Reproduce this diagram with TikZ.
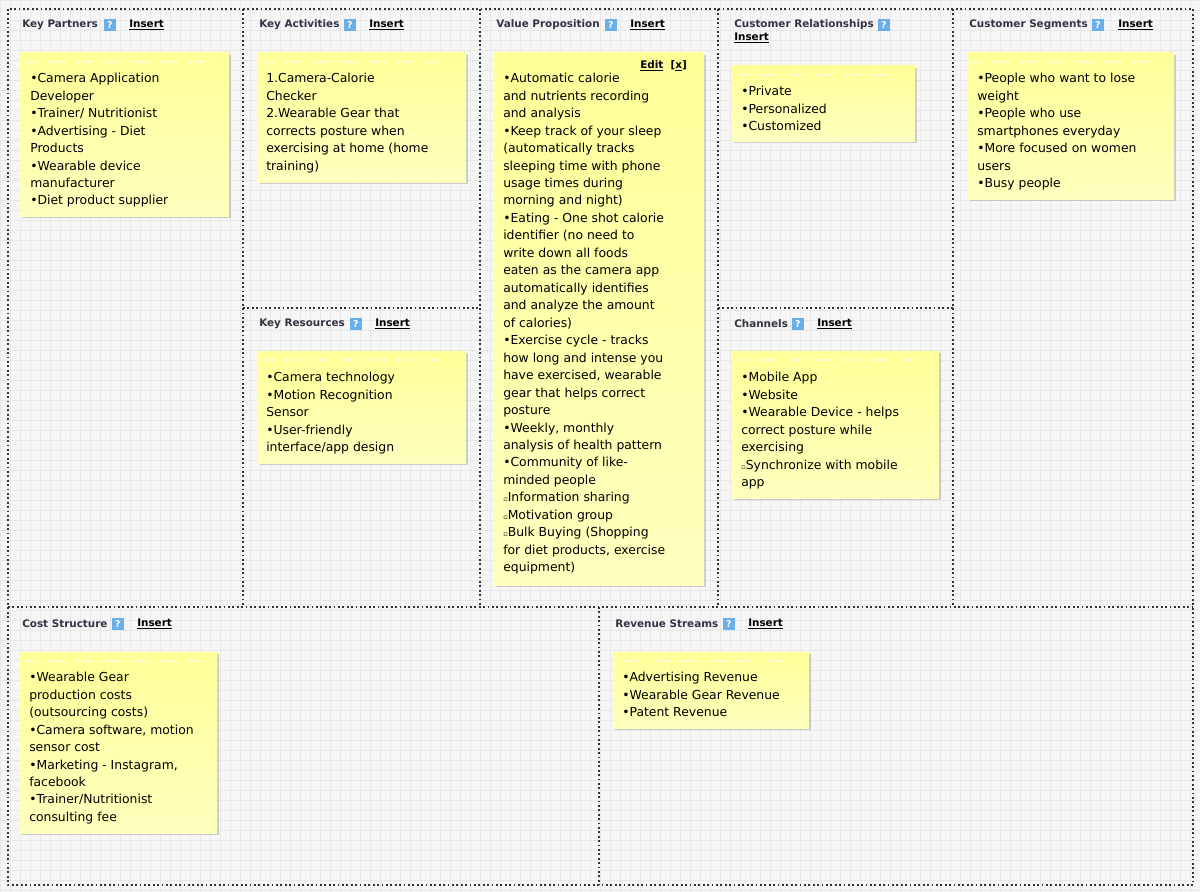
\documentclass[tikz,border=0pt]{standalone}
\usepackage{fontspec}
\setmainfont{DejaVu Sans}
\usetikzlibrary{shadows}
\definecolor{bg}{HTML}{F6F6F6}
\definecolor{gridc}{HTML}{E8E8E8}
\definecolor{notey}{HTML}{FFFF99}
\definecolor{notel}{HTML}{FFFFC8}
\definecolor{hdr}{HTML}{333344}
\definecolor{qbox}{HTML}{6AAEEA}
\tikzset{
  sep/.style={line width=1.3pt, dotted, black!80},
  note/.style={draw=none, top color=notey, bottom color=notel!80!notey, drop shadow={shadow xshift=1.5pt, shadow yshift=-1.5pt, opacity=0.35}},
  ntext/.style={anchor=north west, align=left, font=\fontsize{9.3}{13.1}\selectfont, inner sep=0pt},
  htext/.style={anchor=west, font=\fontsize{7.8}{9}\selectfont\bfseries, text=hdr, inner sep=0pt},
  ins/.style={anchor=west, font=\fontsize{7.8}{9}\selectfont\bfseries, inner sep=0pt},
  qm/.style={fill=qbox, text=white, font=\fontsize{7}{7}\selectfont\bfseries, inner sep=0pt, minimum width=8.5pt, minimum height=8.5pt, anchor=west}
}
\newcommand{\ul}[1]{\underline{#1}}
\newcommand{\sq}{{\fontsize{5}{5}\selectfont ▫}}
\begin{document}
\begin{tikzpicture}[x=0.75pt,y=-0.75pt]
\useasboundingbox (0,0) rectangle (1200,892);
\fill[bg] (0,0) rectangle (1200,892);
\foreach \i in {0,10,...,1200} \draw[gridc, line width=0.4pt] (\i,0) -- (\i,892);
\foreach \j in {0,10,...,890} \draw[gridc, line width=0.4pt] (0,\j) -- (1200,\j);
% frame
\draw[sep] (8,9) rectangle (1193,885);
\draw[sep] (243,9) -- (243,607);
\draw[sep] (480,9) -- (480,607);
\draw[sep] (718,9) -- (718,607);
\draw[sep] (953,9) -- (953,607);
\draw[sep] (243,308) -- (480,308);
\draw[sep] (718,308) -- (953,308);
\draw[sep] (8,607) -- (1193,607);
\draw[sep] (599,607) -- (599,885);
% headers
\node[htext] (h1) at (22,25) {Key Partners};
\node[qm] (q1) at (104,25) {?};
\node[ins] (i1) at (129,25) {\ul{Insert}};
\node[htext] (h2) at (259,25) {Key Activities};
\node[qm] (q2) at (344,25) {?};
\node[ins] (i2) at (369,25) {\ul{Insert}};
\node[htext] (h3) at (496,25) {Value Proposition};
\node[qm] (q3) at (605,25) {?};
\node[ins] (i3) at (630,25) {\ul{Insert}};
\node[htext] (h4) at (734,25) {Customer Relationships};
\node[qm] (q4) at (878,25) {?};
\node[ins] (i4) at (734,38) {\ul{Insert}};
\node[htext] (h5) at (969,25) {Customer Segments};
\node[qm] (q5) at (1092,25) {?};
\node[ins] (i5) at (1118,25) {\ul{Insert}};
\node[htext] (h6) at (259,324) {Key Resources};
\node[qm] (q6) at (350,324) {?};
\node[ins] (i6) at (375,324) {\ul{Insert}};
\node[htext] (h7) at (734,324) {Channels};
\node[qm] (q7) at (792,324) {?};
\node[ins] (i7) at (817,324) {\ul{Insert}};
\node[htext] (h8) at (22,624) {Cost Structure};
\node[qm] (q8) at (112,624) {?};
\node[ins] (i8) at (137,624) {\ul{Insert}};
\node[htext] (h9) at (615,624) {Revenue Streams};
\node[qm] (q9) at (723,624) {?};
\node[ins] (i9) at (748,624) {\ul{Insert}};
% notes
\fill[note] (20,53) rectangle (229,216);
\fill[note] (258,53) rectangle (466,182);
\fill[note] (494,53) rectangle (704,585);
\fill[note] (732,66) rectangle (915,141);
\fill[note] (968,53) rectangle (1174,199);
\fill[note] (258,351) rectangle (466,463);
\fill[note] (732,351) rectangle (939,498);
\fill[note] (20,652) rectangle (217,833);
\fill[note] (613,652) rectangle (809,728);
\foreach \a/\b/\y in {26/210/62, 264/440/62, 970/1150/62, 264/440/360, 738/915/360, 26/200/661, 619/790/661, 738/900/75}
  \draw[white, line width=0.8pt, dotted] (\a,\y) -- (\b,\y);
\node[ins] (ed) at (640,66) {\ul{Edit}\ \ [\ul{x}]};
% texts
\node[ntext] (t1) at (30,73) {•Camera Application\\Developer\\•Trainer/ Nutritionist\\•Advertising - Diet\\Products\\•Wearable device\\manufacturer\\•Diet product supplier};
\node[ntext] (t2) at (266,73) {1.Camera-Calorie\\Checker\\2.Wearable Gear that\\corrects posture when\\exercising at home (home\\training)};
\node[ntext] (t3) at (503,73) {•Automatic calorie\\and nutrients recording\\and analysis\\•Keep track of your sleep\\(automatically tracks\\sleeping time with phone\\usage times during\\morning and night)\\•Eating - One shot calorie\\identifier (no need to\\write down all foods\\eaten as the camera app\\automatically identifies\\and analyze the amount\\of calories)\\•Exercise cycle - tracks\\how long and intense you\\have exercised, wearable\\gear that helps correct\\posture\\•Weekly, monthly\\analysis of health pattern\\•Community of like-\\minded people\\\sq Information sharing\\\sq Motivation group\\\sq Bulk Buying (Shopping\\for diet products, exercise\\equipment)};
\node[ntext] (t4) at (741,86) {•Private\\•Personalized\\•Customized};
\node[ntext] (t5) at (977,73) {•People who want to lose\\weight\\•People who use\\smartphones everyday\\•More focused on women\\users\\•Busy people};
\node[ntext] (t6) at (266,372) {•Camera technology\\•Motion Recognition\\Sensor\\•User-friendly\\interface/app design};
\node[ntext] (t7) at (741,372) {•Mobile App\\•Website\\•Wearable Device - helps\\correct posture while\\exercising\\\sq Synchronize with mobile\\app};
\node[ntext] (t8) at (29,672) {•Wearable Gear\\production costs\\(outsourcing costs)\\•Camera software, motion\\sensor cost\\•Marketing - Instagram,\\facebook\\•Trainer/Nutritionist\\consulting fee};
\node[ntext] (t9) at (622,672) {•Advertising Revenue\\•Wearable Gear Revenue\\•Patent Revenue};
\end{tikzpicture}
\end{document}
